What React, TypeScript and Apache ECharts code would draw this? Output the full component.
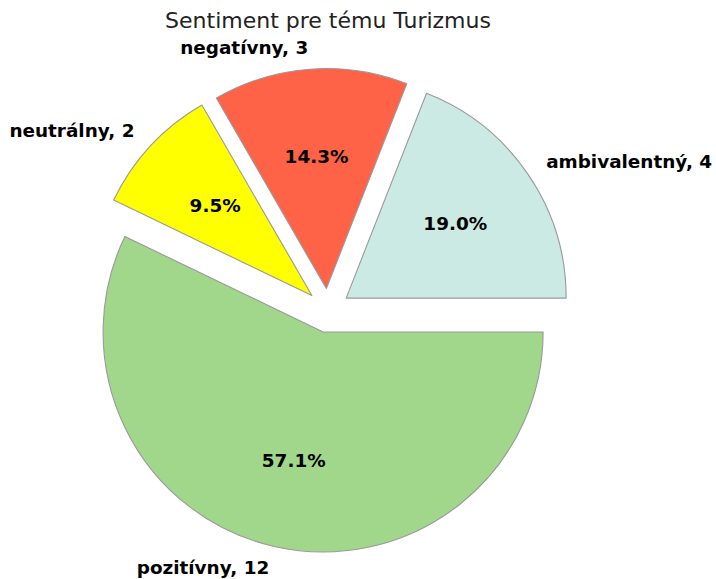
import React, { useEffect, useRef } from "react";
import * as echarts from "echarts";

const titleText = "Sentiment pre tému Turizmus";
const categories = ["ambivalentný", "negatívny", "neutrálny", "pozitívny"];
const counts = [4, 3, 2, 12];
const colors = ["#cbeae3", "#ff6347", "#ffff00", "#a1d78b"];

export default function App() {
  const ref = useRef<HTMLDivElement>(null);
  useEffect(() => {
    if (!ref.current) return;
    const chart = echarts.init(ref.current, undefined, { renderer: "svg" });
    const total = counts.reduce((a, b) => a + b, 0);
    const R = 220;
    const explode = 0.1 * R;
    const center = [328, 310.5];
    const font = "DejaVu Sans";
    const edge = { borderColor: "#999999", borderWidth: 1.1 };
    const baseData = categories.map((c, i) => ({
      name: c,
      value: counts[i],
      selected: true,
    }));
    chart.setOption({
      animation: false,
      backgroundColor: "#ffffff",
      title: {
        text: titleText,
        left: 328,
        top: 9,
        textAlign: "center",
        padding: 0,
        textStyle: { fontFamily: font, fontSize: 22, fontWeight: "normal", color: "#222" },
      },
      series: [
        {
          type: "pie",
          center,
          radius: R,
          startAngle: 0,
          clockwise: false,
          selectedMode: "multiple",
          selectedOffset: explode,
          avoidLabelOverlap: false,
          silent: true,
          emphasis: { disabled: true },
          data: baseData.map((d, i) => ({
            ...d,
            itemStyle: { color: colors[i], ...edge },
            select: { itemStyle: { color: colors[i], ...edge } },
          })),
          label: {
            show: true,
            position: "outside",
            formatter: "{b}, {c}",
            fontFamily: font,
            fontSize: 18.4,
            fontWeight: "bold",
            color: "#000",
            distanceToLabelLine: 0,
            bleedMargin: 0,
          },
          labelLine: { show: false, length: explode, length2: 0 },
        },
        {
          type: "pie",
          center,
          radius: R * 1.2 - 6,
          startAngle: 0,
          clockwise: false,
          selectedMode: "multiple",
          selectedOffset: explode,
          avoidLabelOverlap: false,
          silent: true,
          emphasis: { disabled: true },
          data: baseData.map((d) => ({
            ...d,
            itemStyle: { color: "rgba(0,0,0,0)", borderWidth: 0 },
            select: { itemStyle: { color: "rgba(0,0,0,0)", borderWidth: 0 } },
          })),
          label: {
            show: true,
            position: "inner",
            formatter: (p: any) => ((p.value / total) * 100).toFixed(1) + "%",
            fontFamily: font,
            fontSize: 18.4,
            fontWeight: "bold",
            color: "#000",
          },
          labelLine: { show: false },
        },
      ],
    });
    return () => chart.dispose();
  }, []);
  return (
    <div
      ref={ref}
      style={{ position: "fixed", left: 0, top: 0, width: 716, height: 579 }}
    />
  );
}
